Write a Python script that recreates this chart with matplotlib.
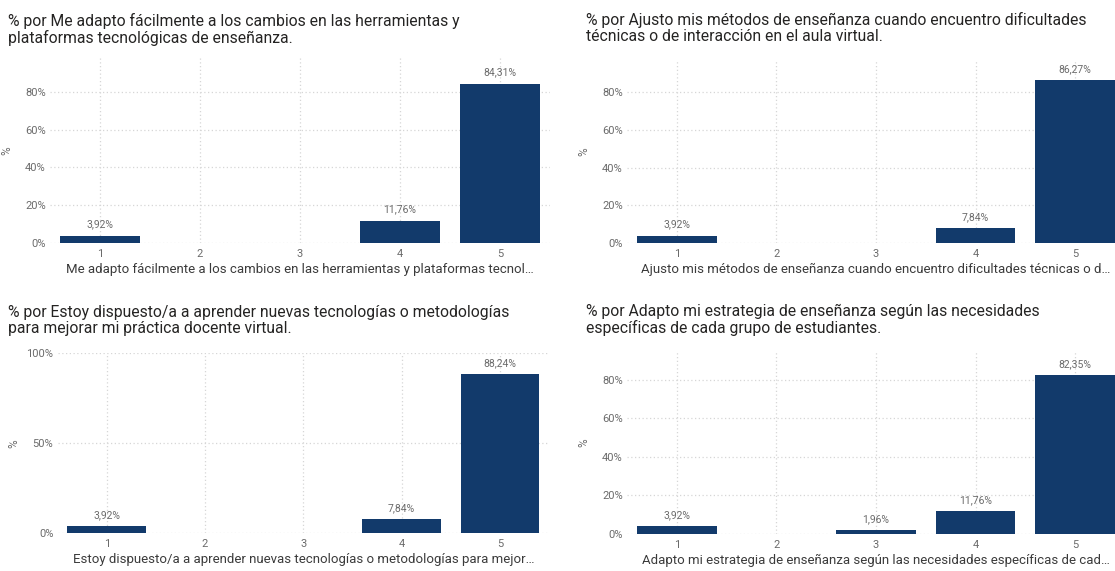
import matplotlib
matplotlib.use("Agg")
import matplotlib.pyplot as plt
import numpy as np

plt.rcParams['font.family'] = ['Roboto', 'DejaVu Sans']

# Response scale (Likert 1-5)
categories = ["1", "2", "3", "4", "5"]

# Percentage of answers per scale value (None = no responses)
pct_adapto_cambios = [3.92, None, None, 11.76, 84.31]
pct_ajusto_metodos = [3.92, None, None, 7.84, 86.27]
pct_dispuesto_aprender = [3.92, None, None, 7.84, 88.24]
pct_adapto_estrategia = [3.92, None, 1.96, 11.76, 82.35]

titles = [
    "% por Me adapto fácilmente a los cambios en las herramientas y\nplataformas tecnológicas de enseñanza.",
    "% por Ajusto mis métodos de enseñanza cuando encuentro dificultades\ntécnicas o de interacción en el aula virtual.",
    "% por Estoy dispuesto/a a aprender nuevas tecnologías o metodologías\npara mejorar mi práctica docente virtual.",
    "% por Adapto mi estrategia de enseñanza según las necesidades\nespecíficas de cada grupo de estudiantes.",
]
xlabels = [
    "Me adapto fácilmente a los cambios en las herramientas y plataformas tecnol…",
    "Ajusto mis métodos de enseñanza cuando encuentro dificultades técnicas o d…",
    "Estoy dispuesto/a a aprender nuevas tecnologías o metodologías para mejor…",
    "Adapto mi estrategia de enseñanza según las necesidades específicas de cad…",
]
yticks = [
    [0, 20, 40, 60, 80],
    [0, 20, 40, 60, 80],
    [0, 50, 100],
    [0, 20, 40, 60, 80],
]
series = [pct_adapto_cambios, pct_ajusto_metodos, pct_dispuesto_aprender, pct_adapto_estrategia]

W, H = 1115, 571
BAR = "#123a6b"
GRID = "#d6d6d6"
TICK = "#6b6b6b"
TITLE = "#252423"

# panel layout in pixels: left, right, top, bottom, y max
boxes = [
    (50, 550, 58, 243, 98),
    (627, 1125, 60, 243, 97),
    (57.6, 549, 353.3, 533.3, 100),
    (627, 1125, 352, 534, 94.5),
]
title_pos = [(8, 13), (586, 12), (8, 305), (586, 304)]

fig = plt.figure(figsize=(W / 100, H / 100), dpi=100)

for vals, title, xl, yt, box, tp in zip(series, titles, xlabels, yticks, boxes, title_pos):
    l, r, t, b, ymax = box
    ax = fig.add_axes([l / W, 1 - b / H, (r - l) / W, (b - t) / H])
    x = np.arange(len(categories))
    for i, v in enumerate(vals):
        if v is None:
            continue
        ax.bar(x[i], v, width=0.8, color=BAR, zorder=3)
        ax.text(x[i], v + ymax * 0.035, f"{v:.2f}".replace(".", ",") + "%",
                ha="center", va="bottom", fontsize=7.5, color=TICK)
    ax.set_xlim(-0.5, len(categories) - 0.5)
    ax.set_ylim(0, ymax)
    ax.set_xticks(x)
    ax.set_xticklabels(categories)
    ax.set_yticks(yt)
    ax.set_yticklabels([f"{v}%" for v in yt])
    ax.tick_params(axis="both", length=0, labelsize=8, colors=TICK)
    ax.tick_params(axis="x", pad=4)
    ax.tick_params(axis="y", pad=3)
    for s in ax.spines.values():
        s.set_visible(False)
    ax.grid(True, axis="both", color=GRID, linestyle=(0, (1, 2)), linewidth=0.9, zorder=0)
    ax.set_axisbelow(True)
    ax.set_xlabel(xl, fontsize=9.5, color="#3b3b3b", labelpad=3)
    ax.set_ylabel("%", fontsize=8.5, color=TICK)
    ax.yaxis.set_label_coords(-37 / (r - l), 0.5)
    fig.text(tp[0] / W, 1 - tp[1] / H, title, ha="left", va="top",
             fontsize=11.3, color=TITLE, linespacing=1.05)

fig.savefig("out.png", dpi=100, facecolor="white")
